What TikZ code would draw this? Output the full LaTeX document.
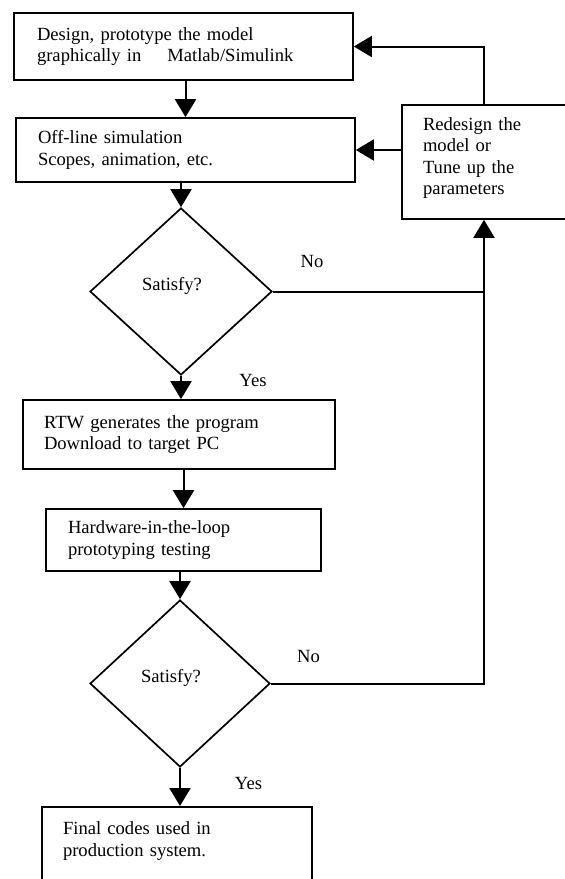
\documentclass[tikz,border=0pt]{standalone}
\usepackage{fontspec}
\setmainfont{Liberation Serif}
\usetikzlibrary{arrows.meta,shapes.geometric}
\begin{document}
\begin{tikzpicture}[x=1pt,y=-1pt,
  every node/.style={font=\fontsize{18.6}{21.5}\selectfont},
  box/.style={draw, line width=1.7pt, rectangle, inner sep=0pt, align=left},
  dec/.style={draw, line width=1.7pt, diamond, inner sep=0pt, align=center, text depth=16pt},
  lbl/.style={inner sep=0pt},
  conn/.style={line width=2pt},
  arr/.style={conn, -{Triangle[length=18pt,width=21pt]}}]
\useasboundingbox (0,0) rectangle (565,879);
\clip (0,0) rectangle (565,879);
\node[box, minimum width=339pt, minimum height=67pt, text width=293pt] (b1) at (183.5,46.5)
  {Design, prototype the model\\graphically in\hspace{26pt}Matlab/Simulink};
\node[box, minimum width=339pt, minimum height=64pt, text width=295pt] (b2) at (185.5,150)
  {Off-line simulation\\Scopes, animation, etc.};
\node[box, minimum width=164pt, minimum height=114pt, text width=122pt, text depth=76.5pt] (r) at (484,162)
  {Redesign the\\model or\\Tune up the\\parameters};
\node[dec, minimum width=182pt, minimum height=167pt] (d1) at (181,291.5) {Satisfy?\hspace*{18pt}};
\node[box, minimum width=312pt, minimum height=69pt, text width=270pt] (b3) at (179,434.5)
  {RTW generates the program\\Download to target PC};
\node[box, minimum width=275pt, minimum height=62pt, text width=231pt] (b4) at (183.5,540)
  {Hardware-in-the-loop\\prototyping testing};
\node[dec, minimum width=180pt, minimum height=167pt] (d2) at (180,683.5) {Satisfy?\hspace*{18pt}};
\node[box, anchor=north, minimum width=270pt, text width=228pt, inner ysep=15pt, text depth=60pt] (b5) at (177,806)
  {Final codes used in\\production system.};
\node[lbl] (no1) at (312,261) {No};
\node[lbl] (no2) at (308.5,656) {No};
\node[lbl] (yes1) at (253,380) {Yes};
\node[lbl] (yes2) at (248.5,783) {Yes};
\draw[arr] (b2.north |- b1.south) -- (b2.north);
\draw[arr] (d1.north |- b2.south) -- (d1.north);
\draw[arr] (d1.south) -- (d1.south |- b3.north);
\draw[arr] (b4.north |- b3.south) -- (b4.north);
\draw[arr] (d2.north |- b4.south) -- (d2.north);
\draw[arr] (d2.south) -- (d2.south |- b5.north);
\coordinate (j) at (r.south |- d1.east);
\draw[conn] (d2.east) -| (j);
\draw[arr] (d1.east) -- (j) -- (r.south);
\draw[arr] (r.north) |- (b1.east);
\draw[arr] (r.west |- b2.east) -- (b2.east);
\end{tikzpicture}
\end{document}
